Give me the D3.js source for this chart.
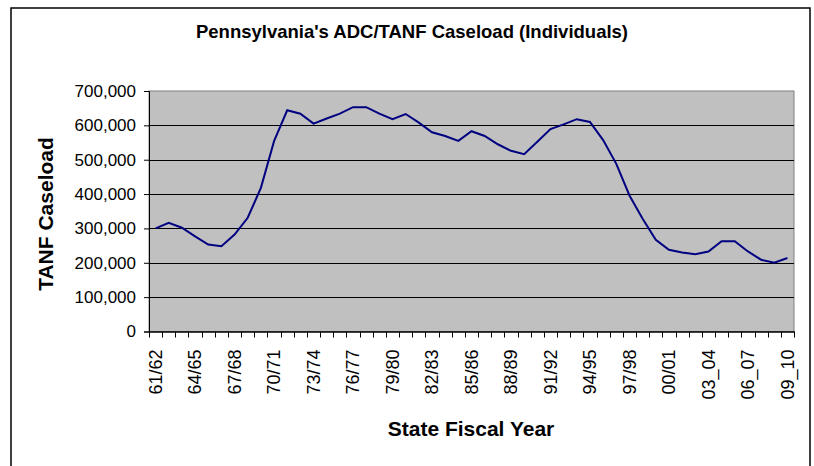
<!DOCTYPE html>
<html>
<head>
<meta charset="utf-8">
<script src="https://cdn.jsdelivr.net/npm/d3@7"></script>
<style>
  body { margin: 0; background: #fff; }
  text { font-family: Arial, "Liberation Sans", sans-serif; }
</style>
</head>
<body>
<div id="chart"></div>
<script>
// fiscal years and caseload (individuals)
var years = ["61/62", "62/63", "63/64", "64/65", "65/66", "66/67", "67/68", "68/69", "69/70",
  "70/71", "71/72", "72/73", "73/74", "74/75", "75/76", "76/77", "77/78", "78/79", "79/80",
  "80/81", "81/82", "82/83", "83/84", "84/85", "85/86", "86/87", "87/88", "88/89", "89/90",
  "90/91", "91/92", "92/93", "93/94", "94/95", "95/96", "96/97", "97/98", "98/99", "99/00",
  "00/01", "01/02", "02/03", "03_04", "04_05", "05_06", "06_07", "07_08", "08_09", "09_10"];

var caseload = [300000, 316000, 302000, 277000, 253000, 248000, 282000, 331000, 418000,
  554000, 644000, 634000, 605000, 620000, 634000, 653000, 653000, 634000, 618000,
  633000, 608000, 580000, 569000, 555000, 583000, 569000, 545000, 526000, 516000,
  552000, 589000, 603000, 618000, 610000, 557000, 488000, 396000, 328000, 267000,
  238000, 230000, 225000, 233000, 263000, 263000, 233000, 209000, 200000, 214000];

var yTicks = [0, 100000, 200000, 300000, 400000, 500000, 600000, 700000];

var svgWidth = 814;
var svgHeight = 466;

var plot = { left: 149, top: 91, right: 794, bottom: 331.5 };

var svg = d3.select("#chart")
  .append("svg")
  .attr("width", svgWidth)
  .attr("height", svgHeight);

// outer chart frame (bottom runs off the picture)
svg.append("rect")
  .attr("x", 11)
  .attr("y", 8)
  .attr("width", 799)
  .attr("height", 480)
  .attr("fill", "white")
  .attr("stroke", "black")
  .attr("stroke-width", 1.5);

var x = d3.scaleBand()
  .domain(years)
  .range([plot.left, plot.right])
  .padding(0);

var y = d3.scaleLinear()
  .domain([0, 700000])
  .range([plot.bottom, plot.top]);

// grey plot area
svg.append("rect")
  .attr("x", plot.left)
  .attr("y", plot.top)
  .attr("width", plot.right - plot.left)
  .attr("height", plot.bottom - plot.top)
  .attr("fill", "#c0c0c0")
  .attr("stroke", "#808080")
  .attr("stroke-width", 1);

// gridlines
svg.append("g")
  .selectAll("line")
  .data(yTicks.filter(d => d > 0 && d < 700000))
  .enter()
  .append("line")
  .attr("x1", plot.left)
  .attr("x2", plot.right)
  .attr("y1", d => Math.round(y(d)) + 0.5)
  .attr("y2", d => Math.round(y(d)) + 0.5)
  .attr("stroke", "black")
  .attr("stroke-width", 1);

// y axis
var leftAxis = d3.axisLeft(y)
  .tickValues(yTicks)
  .tickSize(5)
  .tickPadding(8)
  .tickFormat(d3.format(","));

var yAxisG = svg.append("g")
  .attr("transform", `translate(${plot.left}, 0)`)
  .call(leftAxis);
yAxisG.select(".domain").attr("stroke", "black");
yAxisG.selectAll("text")
  .style("font-size", "17px")
  .attr("fill", "black");

// x axis: ticks between categories, label on every third year
var bottomAxis = d3.axisBottom(x)
  .tickSize(0)
  .tickValues(years.filter((d, i) => i % 3 == 0));

var xAxisG = svg.append("g")
  .attr("transform", `translate(0, ${plot.bottom})`)
  .call(bottomAxis);
xAxisG.select(".domain").attr("stroke", "black").attr("stroke-width", 1.5);
xAxisG.selectAll("text")
  .attr("transform", "rotate(-90)")
  .attr("x", -18)
  .attr("y", 0)
  .attr("dy", "0.35em")
  .style("text-anchor", "end")
  .style("font-size", "18px")
  .attr("fill", "black");

svg.append("g")
  .selectAll("line")
  .data(years.concat(["end"]))
  .enter()
  .append("line")
  .attr("x1", (d, i) => Math.round(plot.left + i * x.bandwidth()) + 0.5)
  .attr("x2", (d, i) => Math.round(plot.left + i * x.bandwidth()) + 0.5)
  .attr("y1", plot.bottom)
  .attr("y2", plot.bottom + 6)
  .attr("stroke", "black");

// caseload line
var line = d3.line()
  .x((d, i) => x(years[i]) + x.bandwidth() / 2)
  .y(d => y(d));

svg.append("path")
  .datum(caseload)
  .attr("d", line)
  .attr("fill", "none")
  .attr("stroke", "#000080")
  .attr("stroke-width", 2);

// titles
svg.append("text")
  .attr("x", 412)
  .attr("y", 38)
  .style("text-anchor", "middle")
  .style("font-weight", "bold")
  .style("font-size", "18.5px")
  .text("Pennsylvania's ADC/TANF Caseload (Individuals)");

svg.append("text")
  .attr("transform", "rotate(-90)")
  .attr("x", -214)
  .attr("y", 53)
  .style("text-anchor", "middle")
  .style("font-weight", "bold")
  .style("font-size", "21px")
  .text("TANF Caseload");

svg.append("text")
  .attr("x", 471)
  .attr("y", 436)
  .style("text-anchor", "middle")
  .style("font-weight", "bold")
  .style("font-size", "21px")
  .text("State Fiscal Year");
</script>
</body>
</html>
